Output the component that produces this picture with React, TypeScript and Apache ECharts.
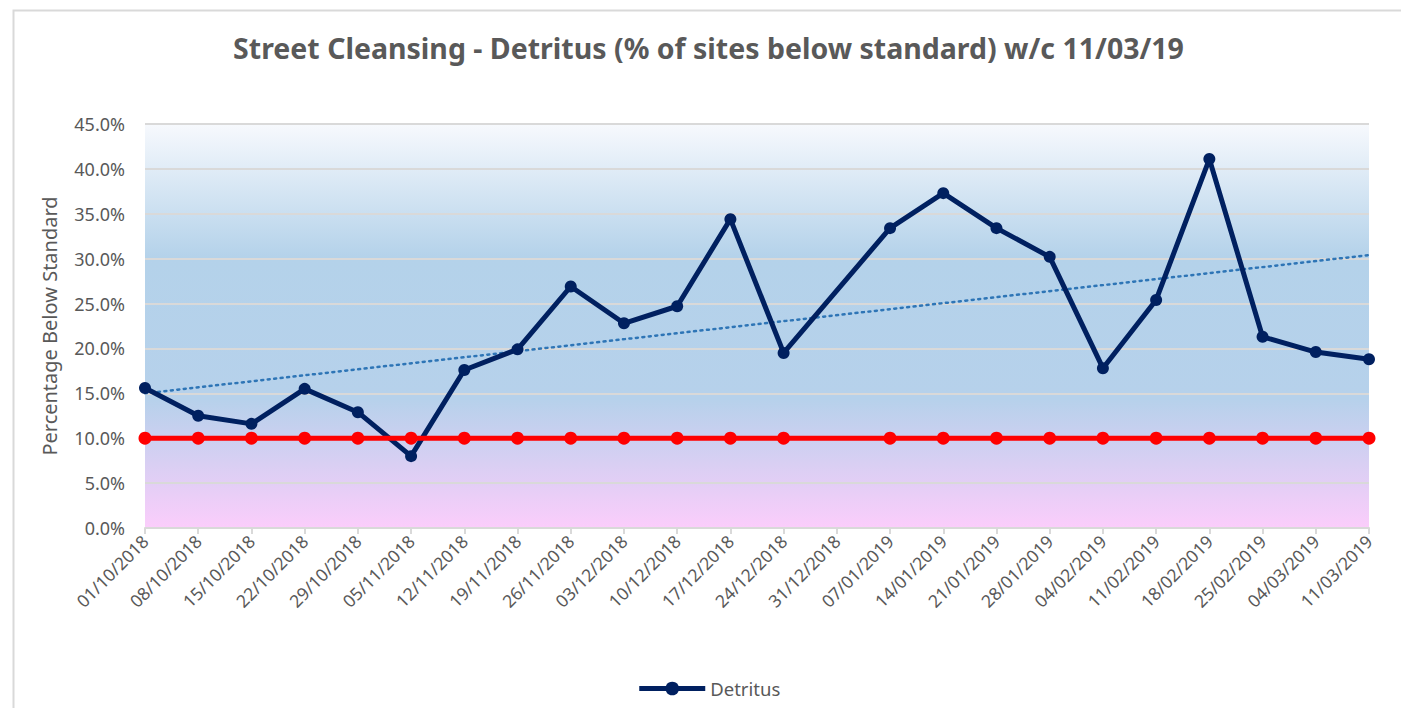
import React, { useEffect, useRef } from "react";
import * as echarts from "echarts";

const categories = [
  "01/10/2018", "08/10/2018", "15/10/2018", "22/10/2018", "29/10/2018", "05/11/2018",
  "12/11/2018", "19/11/2018", "26/11/2018", "03/12/2018", "10/12/2018", "17/12/2018",
  "24/12/2018", "31/12/2018", "07/01/2019", "14/01/2019", "21/01/2019", "28/01/2019",
  "04/02/2019", "11/02/2019", "18/02/2019", "25/02/2019", "04/03/2019", "11/03/2019",
];

const detritus: (number | null)[] = [
  15.6, 12.5, 11.6, 15.5, 12.9, 8.0, 17.6, 19.9, 26.9, 22.8, 24.7, 34.4,
  19.5, null, 33.4, 37.3, 33.4, 30.2, 17.8, 25.4, 41.1, 21.3, 19.6, 18.8,
];

const target: (number | null)[] = [
  10, 10, 10, 10, 10, 10, 10, 10, 10, 10, 10, 10,
  10, null, 10, 10, 10, 10, 10, 10, 10, 10, 10, 10,
];

// linear trend line end points (start at first category, end at last)
const trendEnds = [15.0, 30.4];

const yTicks = { min: 0, max: 45, interval: 5 };

const FONT = "'Noto Sans', sans-serif";
const GREY = "#595959";

export default function App() {
  const ref = useRef<HTMLDivElement>(null);
  useEffect(() => {
    if (!ref.current) return;
    const chart = echarts.init(ref.current, undefined, { renderer: "svg" });
    chart.setOption({
      animation: false,
      textStyle: { fontFamily: FONT },
      title: {
        text: "Street Cleansing - Detritus (% of sites below standard) w/c 11/03/19",
        left: "center",
        top: 20,
        textStyle: { fontFamily: FONT, fontSize: 28.5, fontWeight: "bold", color: GREY },
      },
      graphic: [
        {
          type: "rect",
          left: 3,
          top: 0,
          shape: { width: 1394, height: 740 },
          style: { fill: "none", stroke: "#d9d9d9", lineWidth: 2 },
          silent: true,
        },
      ],
      legend: {
        data: ["Detritus"],
        left: "center",
        top: 666,
        itemWidth: 66,
        itemHeight: 17,
        itemGap: 4,
        lineStyle: { width: 5 },
        textStyle: { fontFamily: FONT, fontSize: 18.5, color: GREY },
      },
      grid: {
        left: 137,
        right: 40,
        top: 116,
        bottom: 180,
        show: true,
        borderWidth: 0,
        backgroundColor: new echarts.graphic.LinearGradient(0, 0, 0, 1, [
          { offset: 0, color: "#f7f9fd" },
          { offset: 0.33, color: "#b4d2ea" },
          { offset: 0.68, color: "#b6d1eb" },
          { offset: 1, color: "#fbcdfb" },
        ]),
      },
      xAxis: {
        type: "category",
        data: categories,
        boundaryGap: false,
        axisLine: { lineStyle: { color: "#d9d9d9", width: 2 } },
        axisTick: { show: true, length: 6, lineStyle: { color: "#d9d9d9", width: 2 } },
        axisLabel: {
          rotate: 45,
          interval: 0,
          fontFamily: FONT,
          fontSize: 17.5,
          color: GREY,
          margin: 10,
        },
      },
      yAxis: {
        type: "value",
        min: yTicks.min,
        max: yTicks.max,
        interval: yTicks.interval,
        name: "Percentage Below Standard",
        nameLocation: "middle",
        nameGap: 86,
        nameTextStyle: { fontFamily: FONT, fontSize: 20, color: GREY },
        axisLine: { show: false },
        axisTick: { show: false },
        axisLabel: {
          fontFamily: FONT,
          fontSize: 18,
          color: GREY,
          margin: 20,
          formatter: (v: number) => v.toFixed(1) + "%",
        },
        splitLine: { lineStyle: { color: "#d9d9d9", width: 2 } },
      },
      series: [
        {
          name: "Detritus",
          type: "line",
          data: detritus,
          connectNulls: true,
          z: 3,
          symbol: "circle",
          symbolSize: 12,
          lineStyle: { color: "#002060", width: 5 },
          itemStyle: { color: "#002060" },
          markLine: {
            silent: true,
            symbol: "none",
            label: { show: false },
            z: 1,
            lineStyle: { color: "#2e75b6", width: 2.5, type: [2, 4.5], cap: "round" },
            data: [
              [
                { coord: [categories[0], trendEnds[0]] },
                { coord: [categories[categories.length - 1], trendEnds[1]] },
              ],
            ],
          },
        },
        {
          name: "Target",
          type: "line",
          data: target,
          connectNulls: true,
          z: 4,
          symbol: "circle",
          symbolSize: 13,
          lineStyle: { color: "#ff0000", width: 5 },
          itemStyle: { color: "#ff0000" },
        },
      ],
    });
    return () => chart.dispose();
  }, []);
  return <div ref={ref} style={{ width: 1401, height: 700 }} />;
}
